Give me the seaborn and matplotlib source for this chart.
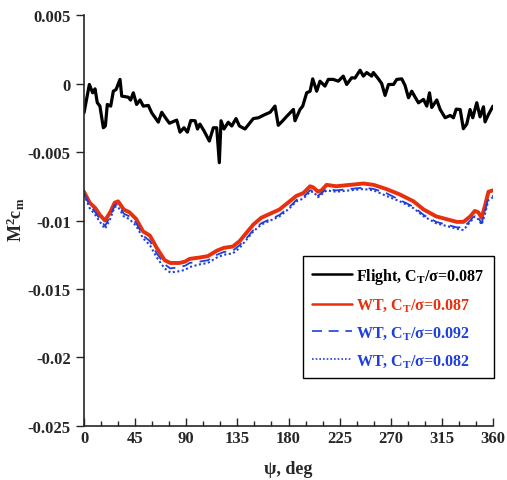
import matplotlib
matplotlib.use("Agg")
import matplotlib.pyplot as plt
from matplotlib.ticker import MultipleLocator
import seaborn as sns
import pandas as pd

# ---- data ----
flight_psi = [0, 4.7, 7.6, 9.7, 11.7, 14, 17, 18.8, 20.5, 23.5, 25.8, 28.2, 31.7, 33.2, 39, 41,
              43.4, 46.3, 49.3, 52.2, 56.6, 59.6, 65.4, 68.4, 72.2, 75.2, 81.6, 84.5, 88, 91,
              94, 97.8, 99.9, 102, 105.6, 110.3, 113.8, 116.8, 119.1, 120.6, 123.2, 127, 130,
              133.8, 136.8, 141.7, 149, 153.5, 159.4, 163.8, 168.1, 171, 174.9, 178.4, 184.3,
              185.7, 190.1, 192.5, 196, 199, 201.3, 204.8, 207.7, 212.1, 215, 219.4, 223.8,
              228.2, 231.2, 235.6, 238.5, 243, 245.9, 248.8, 253.2, 254.7, 259.1, 262, 265,
              268, 272.4, 275.3, 279.7, 282.6, 285.6, 288.5, 291.4, 294.4, 298.8, 301.7, 304.1,
              306.1, 310.5, 313.5, 317.9, 322.3, 325.2, 327.6, 331.1, 333.9, 336.9, 339.8,
              342.2, 345.7, 348.6, 351.6, 353, 356, 360]
flight_cm = [-0.00214, -0.00007, -0.00068, -0.00039, -0.0014, -0.00165, -0.00323, -0.0031,
             -0.00153, -0.00165, -0.00056, -0.00044, 0.0003, -0.00092, -0.001, -0.00121,
             -0.00068, -0.00153, -0.0012, -0.00165, -0.0016, -0.00214, -0.00282, -0.0021,
             -0.00256, -0.0029, -0.00267, -0.00355, -0.00323, -0.00355, -0.0027, -0.00272,
             -0.00332, -0.00296, -0.00345, -0.0042, -0.00323, -0.00323, -0.00578, -0.00272,
             -0.00332, -0.00283, -0.0031, -0.00256, -0.0031, -0.00332, -0.00256, -0.0025,
             -0.00226, -0.0021, -0.00165, -0.00305, -0.00272, -0.0024, -0.00189, -0.00272,
             -0.0019, -0.00165, -0.00068, -0.00056, 0.00034, -0.00056, 0.00017, -0.00019,
             0.0003, 0.0003, 0.00017, 0.00054, -0.00007, 0.00042, 0.0004, 0.00097, 0.00054,
             0.0008, 0.00054, 0.0008, 0.00034, 0.0, -0.00087, -0.00007, -0.00007, 0.0003,
             0.00034, -0.00015, -0.00104, -0.00056, -0.00099, -0.00141, -0.00116, -0.00165,
             -0.00068, -0.00175, -0.0012, -0.0019, -0.0025, -0.00233, -0.0025, -0.00187,
             -0.0019, -0.0033, -0.00296, -0.0019, -0.0025, -0.0014, -0.00243, -0.0017,
             -0.0028, -0.00226, -0.00165]

wt_psi = [0, 5, 10, 14, 18.5, 23, 27, 30, 35, 40, 46, 52, 58, 64, 71, 76, 84, 89, 93, 102,
          109, 117, 123, 131, 137, 143, 149, 156, 164, 172, 181, 187, 193, 199, 202, 206, 209,
          213.5, 222, 234, 246, 255, 266, 278, 290, 299, 310, 319, 328, 334, 340, 344, 347,
          350, 353, 356, 360]
wt087_cm = [-0.0079, -0.0087, -0.0091, -0.0096, -0.0100, -0.0094, -0.0087, -0.0086, -0.0092,
            -0.0094, -0.0099, -0.0108, -0.0111, -0.0120, -0.0129, -0.0131, -0.0131, -0.0130,
            -0.0128, -0.0127, -0.0126, -0.0122, -0.0120, -0.0119, -0.0115, -0.0109, -0.0103,
            -0.0098, -0.0095, -0.0092, -0.0086, -0.0082, -0.0080, -0.0075, -0.0076, -0.0079,
            -0.0078, -0.0074, -0.0075, -0.0074, -0.0073, -0.0074, -0.0077, -0.0081, -0.0086,
            -0.0092, -0.0097, -0.0099, -0.0101, -0.0101, -0.0097, -0.0093, -0.0094, -0.0098,
            -0.0089, -0.0079, -0.0078]
wt092_cm = [-0.0080, -0.0089, -0.0094, -0.0099, -0.0104, -0.0097, -0.0089, -0.0088, -0.0095,
            -0.0097, -0.0102, -0.0111, -0.0115, -0.0124, -0.0132, -0.0135, -0.0134, -0.0133,
            -0.0131, -0.0130, -0.0129, -0.0125, -0.0123, -0.0122, -0.0118, -0.0113, -0.0107,
            -0.0102, -0.0099, -0.0096, -0.0090, -0.0085, -0.0083, -0.0078, -0.0078, -0.0082,
            -0.0080, -0.0077, -0.0078, -0.0077, -0.0076, -0.0077, -0.0080, -0.0085, -0.0090,
            -0.0096, -0.0101, -0.0103, -0.0105, -0.0105, -0.0100, -0.0096, -0.0098, -0.0102,
            -0.0093, -0.0083, -0.0082]
wt082_cm = [-0.0081, -0.0091, -0.0096, -0.0101, -0.0106, -0.0099, -0.0090, -0.0090, -0.0097,
            -0.0099, -0.0104, -0.0113, -0.0118, -0.0127, -0.0135, -0.0138, -0.0137, -0.0136,
            -0.0134, -0.0132, -0.0131, -0.0127, -0.0125, -0.0124, -0.0120, -0.0114, -0.0108,
            -0.0103, -0.0100, -0.0097, -0.0091, -0.0086, -0.0084, -0.0079, -0.0079, -0.0083,
            -0.0081, -0.0078, -0.0079, -0.0078, -0.0077, -0.0078, -0.0082, -0.0086, -0.0091,
            -0.0097, -0.0102, -0.0104, -0.0106, -0.0107, -0.0101, -0.0097, -0.0099, -0.0103,
            -0.0095, -0.0085, -0.0083]

labels = [r"Flight, C$_\mathrm{T}$/σ=0.087", r"WT, C$_\mathrm{T}$/σ=0.087",
          r"WT, C$_\mathrm{T}$/σ=0.092", r"WT, C$_\mathrm{T}$/σ=0.082"]
x_ticks = [0, 45, 90, 135, 180, 225, 270, 315, 360]
y_ticks = [-0.025, -0.02, -0.015, -0.01, -0.005, 0, 0.005]
y_tick_labels = ["-0.025", "-0.02", "-0.015", "-0.01", "-0.005", "0", "0.005"]

# ---- style ----
sns.set_style("ticks")
plt.rcParams["font.family"] = ["Liberation Serif", "DejaVu Serif"]
plt.rcParams["font.weight"] = "bold"
plt.rcParams["mathtext.fontset"] = "custom"
plt.rcParams["mathtext.rm"] = "Liberation Serif:bold"
plt.rcParams["mathtext.it"] = "Liberation Serif:bold"
plt.rcParams["mathtext.bf"] = "Liberation Serif:bold"

fig = plt.figure(figsize=(5.07, 4.81), dpi=100)
ax = fig.add_axes([0.1657, 0.1123, 0.8067, 0.8544])

colors = ["black", "#e8300c", "#1f3fdc", "#1f3fdc"]
styles = ["-", "-", (0, (6, 4)), (0, (1, 1.2))]
widths = [2.3, 2.8, 1.3, 1.5]
leg_widths = [1.8, 1.8, 1.2, 1.2]
series = [(flight_psi, flight_cm), (wt_psi, wt087_cm), (wt_psi, wt092_cm), (wt_psi, wt082_cm)]

for (xs, ys), lab, c, ls, lw in zip(series, labels, colors, styles, widths):
    df = pd.DataFrame({"psi": xs, "cm": ys})
    sns.lineplot(data=df, x="psi", y="cm", ax=ax, color=c, linestyle=ls, linewidth=lw,
                 label=lab, sort=False, estimator=None)

ax.set_xlim(0, 360)
ax.set_ylim(-0.025, 0.005)
ax.set_xticks(x_ticks)
ax.xaxis.set_minor_locator(MultipleLocator(15))
ax.set_yticks(y_ticks)
ax.set_yticklabels(y_tick_labels)
ax.tick_params(axis="x", which="major", direction="in", length=6, width=1, labelsize=12, pad=3)
ax.tick_params(axis="x", which="minor", direction="in", length=3.5, width=1)
ax.tick_params(axis="y", which="major", direction="out", length=6, width=1, labelsize=12)
for lab in ax.get_xticklabels() + ax.get_yticklabels():
    lab.set_fontweight("bold")
for sp in ["top", "right"]:
    ax.spines[sp].set_visible(False)
for sp in ["left", "bottom"]:
    ax.spines[sp].set_linewidth(1.2)

ax.set_xlabel("ψ, deg", fontsize=13, fontweight="bold", labelpad=10)
ax.set_ylabel(r"M$^2$c$_\mathrm{m}$", fontsize=13, fontweight="bold", labelpad=4)
ax.yaxis.set_label_coords(-0.14, 0.505)

leg = ax.legend(loc="upper left", bbox_to_anchor=(0.535, 0.413), frameon=True, fancybox=False,
                edgecolor="black", framealpha=1, fontsize=11.5, handlelength=2.5,
                handletextpad=0.25, borderpad=0.6, labelspacing=0.68, borderaxespad=0)
leg.get_frame().set_linewidth(1.0)
for txt, c in zip(leg.get_texts(), colors):
    txt.set_color(c)
    txt.set_fontweight("bold")
for hl, w in zip(leg.get_lines(), leg_widths):
    hl.set_linewidth(w)

fig.savefig("out.png", dpi=100)
